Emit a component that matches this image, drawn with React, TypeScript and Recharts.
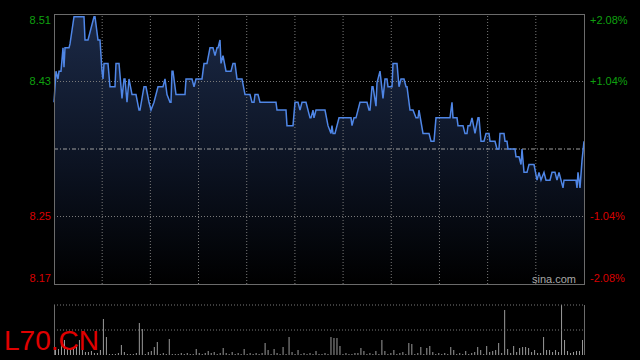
import { ComposedChart, Area, Line, XAxis, YAxis, ReferenceLine, BarChart, Bar } from 'recharts'

const prevClose = 8.34
const pctLevels = [-2.08, -1.04, 1.04, 2.08]
const sessionEnd = 530

// minute offsets of each price change
const minutes = [0, 2, 4, 5, 7, 9, 10, 11, 15, 16, 20, 30, 31, 34, 40, 41, 44, 46, 48, 49, 50, 54, 56, 61, 62, 65, 68, 70, 71, 73, 75, 78, 82, 85, 86, 90, 92, 95, 97, 100, 104, 109, 111, 113, 116, 117, 118, 119, 122, 131, 132, 138, 140, 142, 148, 150, 153, 156, 159, 161, 163, 164, 166, 167, 169, 172, 177, 179, 181, 183, 188, 191, 196, 198, 200, 201, 204, 206, 222, 223, 232, 233, 239, 241, 244, 246, 248, 252, 256, 257, 259, 260, 262, 271, 274, 277, 278, 279, 281, 285, 297, 298, 300, 302, 306, 313, 315, 316, 318, 319, 322, 323, 326, 329, 331, 333, 334, 338, 339, 343, 345, 347, 350, 352, 353, 356, 359, 362, 364, 365, 369, 375, 377, 380, 382, 396, 398, 399, 403, 404, 409, 411, 413, 414, 416, 418, 421, 424, 425, 427, 430, 432, 435, 436, 441, 443, 445, 446, 450, 451, 453, 454, 461, 462, 465, 467, 468, 470, 473, 475, 480, 483, 485, 487, 490, 492, 496, 498, 501, 503, 505, 507, 509, 510, 522, 523, 524, 526, 528, 530]

const prices = [8.40, 8.44, 8.43, 8.44, 8.44, 8.47, 8.445, 8.47, 8.47, 8.475, 8.51, 8.51, 8.48, 8.48, 8.51, 8.51, 8.48, 8.48, 8.44, 8.43, 8.45, 8.45, 8.42, 8.42, 8.45, 8.45, 8.405, 8.43, 8.43, 8.40, 8.43, 8.41, 8.41, 8.39, 8.39, 8.42, 8.42, 8.40, 8.39, 8.40, 8.42, 8.42, 8.43, 8.41, 8.40, 8.40, 8.44, 8.44, 8.41, 8.41, 8.43, 8.43, 8.42, 8.43, 8.43, 8.45, 8.45, 8.47, 8.47, 8.46, 8.47, 8.47, 8.48, 8.45, 8.46, 8.44, 8.44, 8.45, 8.45, 8.43, 8.43, 8.41, 8.41, 8.40, 8.40, 8.41, 8.41, 8.40, 8.40, 8.39, 8.39, 8.37, 8.37, 8.40, 8.40, 8.39, 8.40, 8.40, 8.38, 8.38, 8.39, 8.38, 8.39, 8.39, 8.37, 8.36, 8.37, 8.36, 8.36, 8.38, 8.38, 8.37, 8.38, 8.38, 8.40, 8.40, 8.39, 8.39, 8.42, 8.42, 8.395, 8.425, 8.44, 8.405, 8.43, 8.43, 8.42, 8.42, 8.45, 8.45, 8.42, 8.43, 8.43, 8.42, 8.42, 8.39, 8.39, 8.38, 8.38, 8.39, 8.36, 8.36, 8.35, 8.35, 8.38, 8.38, 8.40, 8.38, 8.38, 8.37, 8.37, 8.36, 8.36, 8.37, 8.37, 8.38, 8.36, 8.38, 8.38, 8.35, 8.35, 8.36, 8.36, 8.35, 8.35, 8.34, 8.34, 8.36, 8.36, 8.35, 8.35, 8.34, 8.34, 8.33, 8.33, 8.32, 8.34, 8.31, 8.31, 8.32, 8.32, 8.30, 8.31, 8.30, 8.31, 8.30, 8.30, 8.31, 8.31, 8.30, 8.31, 8.30, 8.29, 8.30, 8.30, 8.29, 8.31, 8.29, 8.325, 8.35]

// volume per 3-minute slot
const volumes = [5, 6, 11, 15, 6, 7, 6, 8, 15, 7, 3, 3, 4, 2, 2, 5, 36, 18, 1, 1, 1, 2, 10, 3, 1, 1, 1, 2, 32, 26, 1, 3, 4, 8, 13, 1, 2, 1, 16, 1, 1, 1, 2, 1, 2, 1, 1, 6, 2, 1, 2, 4, 2, 3, 1, 2, 7, 2, 1, 3, 1, 2, 1, 6, 1, 2, 1, 2, 1, 2, 12, 5, 1, 6, 2, 1, 8, 1, 18, 3, 1, 5, 1, 2, 1, 2, 1, 4, 1, 1, 2, 1, 18, 17, 17, 9, 1, 2, 1, 1, 2, 2, 7, 4, 1, 2, 1, 4, 1, 15, 4, 1, 2, 5, 1, 2, 3, 1, 12, 11, 1, 2, 8, 1, 7, 9, 3, 1, 2, 1, 2, 1, 8, 5, 1, 2, 1, 4, 1, 2, 3, 8, 5, 1, 9, 3, 4, 5, 12, 2, 45, 6, 2, 9, 3, 7, 8, 8, 7, 3, 5, 2, 2, 18, 5, 5, 3, 5, 3, 50, 15, 4, 2, 3, 4, 4, 15]

const GREEN = '#0fa00f'
const RED = '#d80000'
const FONT = '"Liberation Sans", Arial, sans-serif'

const priceData = minutes.map((t, i) => ({ t, price: prices[i], pct: (prices[i] / prevClose - 1) * 100 }))
const volData = volumes.map((v, i) => ({ slot: i, v }))
const gridMinutes = Array.from({ length: 10 }, (_, i) => ((i + 1) * sessionEnd) / 11)
const lo = prevClose * (1 + pctLevels[0] / 100)
const hi = prevClose * (1 + pctLevels[pctLevels.length - 1] / 100)
const priceTicks = pctLevels.map(p => prevClose * (1 + p / 100))

function edgeShift(v: number, min: number, max: number) {
  if (Math.abs(v - max) < 1e-6) return 6
  if (Math.abs(v - min) < 1e-6) return -6
  return 0
}

function PriceTick({ y, payload }: any) {
  const v = payload.value
  return (
    <text x={51} y={y + edgeShift(v, lo, hi)} dy="0.35em" textAnchor="end" fontSize={11} fontFamily={FONT} fill={v > prevClose ? GREEN : RED}>
      {v.toFixed(2)}
    </text>
  )
}

function PctTick({ y, payload }: any) {
  const v = payload.value
  const label = (v > 0 ? '+' : '') + v.toFixed(2) + '%'
  return (
    <text x={590} y={y + edgeShift(v, pctLevels[0], pctLevels[pctLevels.length - 1])} dy="0.35em" textAnchor="start" fontSize={11} fontFamily={FONT} fill={v > 0 ? GREEN : RED}>
      {label}
    </text>
  )
}

export default function App() {
  return (
    <div style={{ position: 'absolute', left: 0, top: 0, width: 640, height: 360, background: '#000', overflow: 'hidden' }}>
      <div style={{ position: 'absolute', left: 0, top: 0 }}>
        <ComposedChart width={640} height={290} data={priceData} margin={{ top: 14, right: 0, bottom: 6, left: 0 }}>
          <defs>
            <linearGradient id="fillGrad" x1="0" y1="0" x2="0" y2="1">
              <stop offset="0%" stopColor="#1b2946" />
              <stop offset="55%" stopColor="#0c1322" />
              <stop offset="100%" stopColor="#000000" />
            </linearGradient>
          </defs>
          <XAxis dataKey="t" type="number" domain={[0, sessionEnd]} hide />
          <YAxis yAxisId="price" orientation="left" width={54} domain={[lo, hi]} ticks={priceTicks} tick={<PriceTick />} axisLine={false} tickLine={false} interval={0} />
          <YAxis yAxisId="pct" orientation="right" width={56} domain={[pctLevels[0], pctLevels[pctLevels.length - 1]]} ticks={pctLevels} tick={<PctTick />} axisLine={false} tickLine={false} interval={0} />
          <Area yAxisId="price" type="linear" dataKey="price" stroke="none" fill="url(#fillGrad)" fillOpacity={1} isAnimationActive={false} />
          {gridMinutes.map(m => (
            <ReferenceLine key={m} yAxisId="price" x={m} stroke="#7a7a7a" strokeDasharray="1 2" />
          ))}
          <ReferenceLine yAxisId="price" y={priceTicks[1]} stroke="#7a7a7a" strokeDasharray="1 2" />
          <ReferenceLine yAxisId="price" y={priceTicks[2]} stroke="#7a7a7a" strokeDasharray="1 2" />
          <ReferenceLine yAxisId="price" y={prevClose} stroke="#a0a0a0" strokeDasharray="4 2 1 2" />
          <Line yAxisId="pct" type="linear" dataKey="pct" stroke="none" dot={false} activeDot={false} isAnimationActive={false} />
          <Line yAxisId="price" type="linear" dataKey="price" stroke="#4f86e6" strokeWidth={1.5} dot={false} isAnimationActive={false} />
        </ComposedChart>
      </div>
      <div style={{ position: 'absolute', left: 54, top: 14, width: 531, height: 271, border: '1px solid #6b6b6b', boxSizing: 'border-box' }} />
      <div style={{ position: 'absolute', left: 0, top: 290 }}>
        <BarChart width={640} height={70} data={volData} margin={{ top: 15, right: 56, bottom: 5, left: 54 }}>
          <XAxis dataKey="slot" hide />
          <YAxis domain={[0, 50]} hide />
          <ReferenceLine y={50} stroke="#7a7a7a" strokeDasharray="1 2" />
          <ReferenceLine y={25} stroke="#7a7a7a" strokeDasharray="1 2" />
          <Bar dataKey="v" fill="#9a9a9a" barSize={1} isAnimationActive={false} />
        </BarChart>
      </div>
      <div style={{ position: 'absolute', left: 54, top: 305, width: 531, height: 50, borderLeft: '1px solid #6b6b6b', borderRight: '1px solid #6b6b6b', boxSizing: 'border-box' }} />
      <div style={{ position: 'absolute', left: 532, top: 274, fontFamily: FONT, fontSize: 11, lineHeight: '11px', color: '#a8a8a8' }}>sina.com</div>
      <div style={{ position: 'absolute', left: 4, top: 327, fontFamily: FONT, fontSize: 28, lineHeight: '28px', color: '#e00000' }}>L70.CN</div>
    </div>
  )
}
